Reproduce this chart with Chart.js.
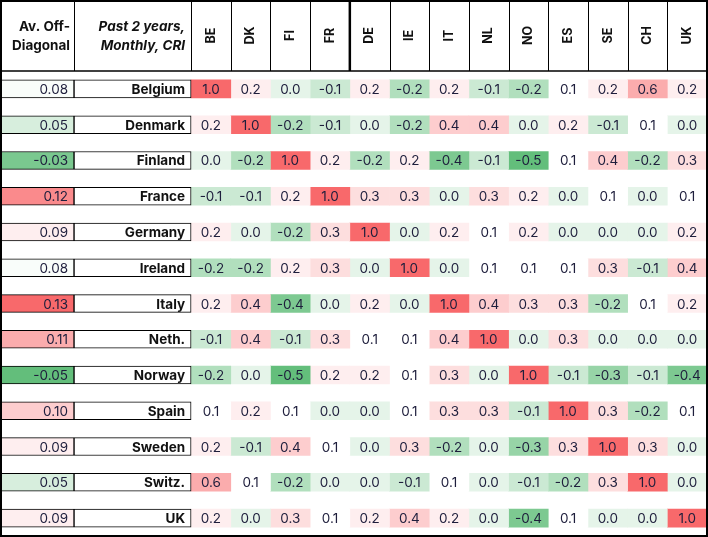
<!DOCTYPE html>
<html><head><meta charset="utf-8">
<script src="https://cdn.jsdelivr.net/npm/chart.js@4"></script>
<style>html,body{margin:0;padding:0;background:#fff}#w{width:708px;height:537px}</style>
</head><body><div id="w"><canvas id="c"></canvas></div>
<script>
const countries = ['Belgium','Denmark','Finland','France','Germany','Ireland','Italy','Neth.','Norway','Spain','Sweden','Switz.','UK'];
const codes = ['BE','DK','FI','FR','DE','IE','IT','NL','NO','ES','SE','CH','UK'];
const avgOffDiag = [0.08,0.05,-0.03,0.12,0.09,0.08,0.13,0.11,-0.05,0.10,0.09,0.05,0.09];
const corr = [
 [1.0,0.2,0.0,-0.1,0.2,-0.2,0.2,-0.1,-0.2,0.1,0.2,0.6,0.2],
 [0.2,1.0,-0.2,-0.1,0.0,-0.2,0.4,0.4,0.0,0.2,-0.1,0.1,0.0],
 [0.0,-0.2,1.0,0.2,-0.2,0.2,-0.4,-0.1,-0.5,0.1,0.4,-0.2,0.3],
 [-0.1,-0.1,0.2,1.0,0.3,0.3,0.0,0.3,0.2,0.0,0.1,0.0,0.1],
 [0.2,0.0,-0.2,0.3,1.0,0.0,0.2,0.1,0.2,0.0,0.0,0.0,0.2],
 [-0.2,-0.2,0.2,0.3,0.0,1.0,0.0,0.1,0.1,0.1,0.3,-0.1,0.4],
 [0.2,0.4,-0.4,0.0,0.2,0.0,1.0,0.4,0.3,0.3,-0.2,0.1,0.2],
 [-0.1,0.4,-0.1,0.3,0.1,0.1,0.4,1.0,0.0,0.3,0.0,0.0,0.0],
 [-0.2,0.0,-0.5,0.2,0.2,0.1,0.3,0.0,1.0,-0.1,-0.3,-0.1,-0.4],
 [0.1,0.2,0.1,0.0,0.0,0.1,0.3,0.3,-0.1,1.0,0.3,-0.2,0.1],
 [0.2,-0.1,0.4,0.1,0.0,0.3,-0.2,0.0,-0.3,0.3,1.0,0.3,0.0],
 [0.6,0.1,-0.2,0.0,0.0,-0.1,0.1,0.0,-0.1,-0.2,0.3,1.0,0.0],
 [0.2,0.0,0.3,0.1,0.2,0.4,0.2,0.0,-0.4,0.1,0.0,0.0,1.0]
];
const headerTitle = ['Av. Off-','Diagonal'];
const cornerTitle = ['Past 2 years,','Monthly, CRI'];

const AVW = 1.84, LBW = 2.95, X0 = AVW + LBW, XMAX = X0 + codes.length;
const RED=[248,105,107], WHITE=[255,255,255], GREEN=[99,190,123];
function mix(a,b,t){return 'rgb('+a.map((v,i)=>Math.round(v+(b[i]-v)*t)).join(',')+')';}
function scale3(v,lo,mid,hi){
  if(v>=mid) return mix(WHITE,RED,Math.min(1,(v-mid)/(hi-mid)));
  return mix(WHITE,GREEN,Math.min(1,(mid-v)/(mid-lo)));
}
const datasets = [];
datasets.push({data:countries.map((n,i)=>({y:i,x:[0,AVW]})),backgroundColor:avgOffDiag.map(v=>scale3(v,-0.05,0.085,0.13)),borderColor:'#000',borderWidth:1,borderSkipped:false});
datasets.push({data:countries.map((n,i)=>({y:i,x:[AVW,X0]})),backgroundColor:'#fff',borderColor:'#000',borderWidth:1,borderSkipped:false});
codes.forEach((c,j)=>{
  datasets.push({data:countries.map((n,i)=>({y:i,x:[X0+j,X0+j+1]})),backgroundColor:corr.map(r=>scale3(r[j],-0.5,0.1,1.0)),borderWidth:0});
});
datasets.forEach(d=>{d.barPercentage=1;d.categoryPercentage=1;d.grouped=false;});
const FONT='Inter, "DejaVu Sans", sans-serif';
const TXT='#1e1e3c';
const textPlugin={id:'txt',afterDatasetsDraw(ch){
  const {ctx,scales:{x,y},chartArea:a}=ch;
  ctx.save();ctx.textBaseline='middle';ctx.fillStyle=TXT;
  countries.forEach((n,i)=>{
    const yy=y.getPixelForValue(i)+1;
    ctx.font='13.5px '+FONT;ctx.textAlign='right';ctx.fillStyle=TXT;
    ctx.fillText(avgOffDiag[i].toFixed(2),x.getPixelForValue(AVW)-6,yy);
    ctx.font='bold 13.5px '+FONT;ctx.fillStyle='#111';
    ctx.fillText(n,x.getPixelForValue(X0)-6,yy);
    ctx.fillStyle=TXT;ctx.font='13.5px '+FONT;ctx.textAlign='center';
    corr[i].forEach((v,j)=>ctx.fillText(v.toFixed(1),x.getPixelForValue(X0+j+0.5),yy));
  });
  const top=1, bot=a.top;
  ctx.strokeStyle='#000';ctx.lineWidth=1;
  const vx=[AVW,X0]; codes.forEach((c,j)=>vx.push(X0+j+1));
  vx.forEach(v=>{const px=Math.round(x.getPixelForValue(v))+0.5;ctx.beginPath();ctx.moveTo(px,top);ctx.lineTo(px,bot);ctx.stroke();});
  ctx.lineWidth=2.5;{const px=x.getPixelForValue(X0+4);ctx.beginPath();ctx.moveTo(px,top);ctx.lineTo(px,bot);ctx.stroke();}
  ctx.lineWidth=1.5;ctx.beginPath();ctx.moveTo(x.getPixelForValue(0),bot);ctx.lineTo(x.getPixelForValue(XMAX),bot);ctx.stroke();
  ctx.lineWidth=2;
  ctx.strokeRect(x.getPixelForValue(0),top,x.getPixelForValue(XMAX)-x.getPixelForValue(0),a.bottom-top);
  ctx.fillStyle='#111';ctx.font='bold 13.5px '+FONT;ctx.textAlign='right';
  headerTitle.forEach((t,k)=>ctx.fillText(t,x.getPixelForValue(AVW)-4,bot/2-9+k*19));
  ctx.font='italic bold 13.5px '+FONT;
  cornerTitle.forEach((t,k)=>ctx.fillText(t,x.getPixelForValue(X0)-6,bot/2-9+k*19));
  ctx.font='bold 12.5px '+FONT;ctx.textAlign='center';
  codes.forEach((c,j)=>{ctx.save();ctx.translate(x.getPixelForValue(X0+j+0.5),bot/2);ctx.rotate(-Math.PI/2);ctx.fillText(c,0,0);ctx.restore();});
  ctx.restore();
}};
new Chart(document.getElementById('c'),{type:'bar',
  data:{labels:countries,datasets},
  options:{indexAxis:'y',responsive:true,maintainAspectRatio:false,animation:false,
    layout:{padding:{top:71,left:1,right:1,bottom:1}},
    plugins:{legend:{display:false},tooltip:{enabled:false}},
    scales:{x:{type:'linear',min:0,max:XMAX,display:false,offset:false},
            y:{type:'linear',min:-0.5,max:countries.length-0.5,reverse:true,display:false,offset:false}}
  },plugins:[textPlugin]});
</script></body></html>
